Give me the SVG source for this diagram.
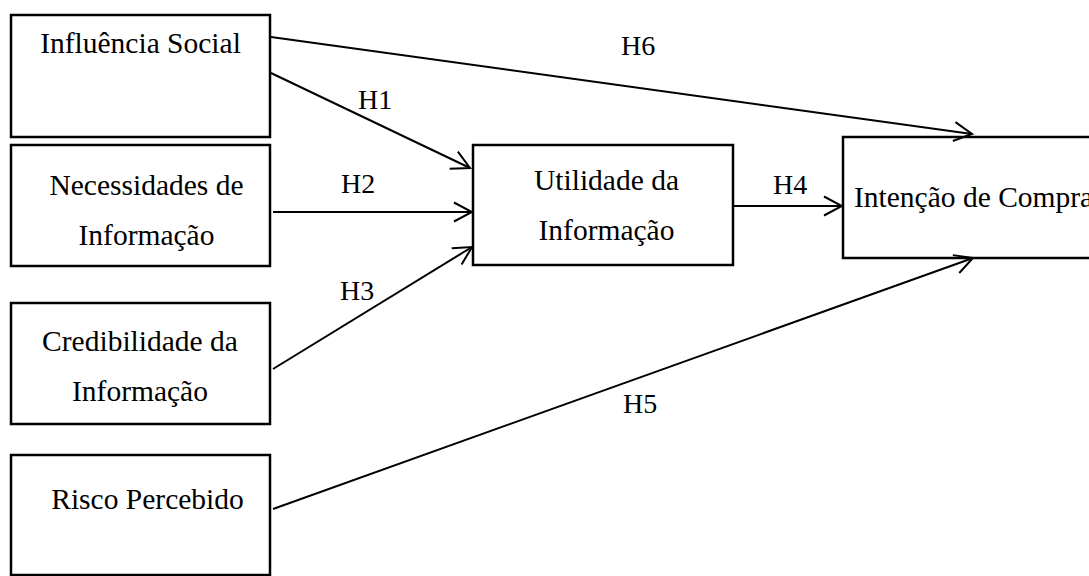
<svg xmlns="http://www.w3.org/2000/svg" width="1089" height="576" viewBox="0 0 1089 576">
<style>
.box{fill:#fff;stroke:#000;stroke-width:2.5}
.t{font-family:"Liberation Serif","Times New Roman",serif;font-size:29.5px;fill:#000;text-anchor:middle}
.h{font-family:"Liberation Serif","Times New Roman",serif;font-size:28px;fill:#000}
.c{fill:none;stroke:#000;stroke-width:2}
</style>
<defs>
<marker id="arr" markerUnits="userSpaceOnUse" viewBox="-20 -11 22 22" refX="0" refY="0" markerWidth="22" markerHeight="22" orient="auto">
<path d="M-18,-9.5 L0,0 L-18,9.5" fill="none" stroke="#000" stroke-width="2"/>
</marker>
</defs>
<rect width="1089" height="576" fill="#fff"/>
<g id="influencia">
<rect class="box" x="11" y="15" width="259" height="122"/>
<text class="t" x="140.5" y="53">Influência Social</text>
</g>
<g id="necessidades">
<rect class="box" x="11" y="145" width="259" height="121"/>
<text class="t" x="146.5" y="195">Necessidades de</text>
<text class="t" x="146.5" y="245">Informação</text>
</g>
<g id="credibilidade">
<rect class="box" x="11" y="303" width="259" height="121"/>
<text class="t" x="140" y="351">Credibilidade da</text>
<text class="t" x="140" y="401">Informação</text>
</g>
<g id="risco">
<rect class="box" x="11" y="455" width="259" height="120"/>
<text class="t" x="147.5" y="509">Risco Percebido</text>
</g>
<g id="utilidade">
<rect class="box" x="473" y="145" width="260" height="120"/>
<text class="t" x="606.5" y="190">Utilidade da</text>
<text class="t" x="606.5" y="240">Informação</text>
</g>
<g id="intencao">
<rect class="box" x="843" y="137" width="260" height="121"/>
<text class="t" x="854" y="207" style="text-anchor:start">Intenção de Compra</text>
</g>
<g id="connectors">
<line class="c" marker-end="url(#arr)" x1="271" y1="37" x2="972" y2="134"/>
<line class="c" marker-end="url(#arr)" x1="271" y1="73" x2="470" y2="168"/>
<line class="c" marker-end="url(#arr)" x1="273" y1="212" x2="472" y2="212"/>
<line class="c" marker-end="url(#arr)" x1="273" y1="369" x2="472" y2="247"/>
<line class="c" marker-end="url(#arr)" x1="733" y1="206" x2="842" y2="206"/>
<line class="c" marker-end="url(#arr)" x1="273" y1="509" x2="973" y2="258"/>
<text class="h" x="621" y="55">H6</text>
<text class="h" x="358" y="109">H1</text>
<text class="h" x="341" y="193">H2</text>
<text class="h" x="340" y="300">H3</text>
<text class="h" x="773" y="194">H4</text>
<text class="h" x="623" y="413">H5</text>
</g>
</svg>
